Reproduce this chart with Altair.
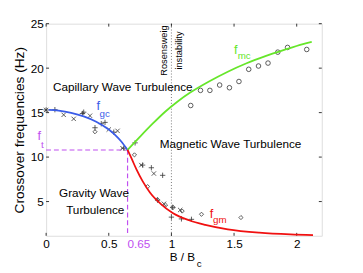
import altair as alt
import pandas as pd

# ---- data ----
# model curves
gc_B = [0.02, 0.1, 0.2, 0.3, 0.4, 0.5, 0.55, 0.6, 0.65]
gc_f = [15.3, 15.22, 14.98, 14.58, 13.98, 13.1, 12.5, 11.75, 10.8]
mc_B = [0.65, 0.75, 0.85, 0.95, 1.05, 1.15, 1.3, 1.45, 1.6, 1.75, 1.9, 2.05, 2.12]
mc_f = [10.8, 12.3, 13.75, 15.1, 16.25, 17.25, 18.5, 19.6, 20.55, 21.35, 22.05, 22.7, 22.95]
gm_B = [0.65, 0.68, 0.72, 0.77, 0.83, 0.91, 1.01, 1.14, 1.27, 1.45, 1.7, 1.95, 2.13]
gm_f = [10.8, 9.9, 8.65, 7.3, 6.0, 4.8, 3.72, 2.9, 2.38, 1.88, 1.5, 1.3, 1.22]

# measured points
plus_B = [0.0, 0.07, 0.29, 0.30, 0.39, 0.44, 0.47, 0.54, 0.62, 0.71, 0.77, 0.84, 0.93, 0.89, 1.0, 1.08, 1.16, 1.01]
plus_f = [15.3, 15.33, 14.9, 15.05, 13.3, 13.75, 13.9, 12.8, 11.0, 11.6, 9.1, 8.8, 7.95, 5.15, 3.25, 3.05, 3.0, 4.35]
cross_B = [0.0, 0.14, 0.22, 0.35, 0.5, 0.57, 0.61, 0.76, 0.86, 0.94, 1.07]
cross_f = [15.3, 14.75, 14.3, 14.65, 13.1, 12.95, 11.0, 9.1, 8.15, 4.75, 4.05]
circ_B = [1.154, 1.232, 1.307, 1.385, 1.463, 1.539, 1.617, 1.695, 1.771, 1.849, 1.927, 2.08]
circ_f = [15.8, 17.5, 17.5, 18.1, 17.8, 18.5, 19.87, 20.24, 20.57, 21.8, 22.33, 22.1]
diam_B = [0.39, 0.705, 0.81, 0.888, 0.953, 1.013, 1.086, 1.24, 1.555]
diam_f = [12.85, 10.25, 6.68, 5.22, 4.6, 4.34, 3.93, 3.57, 3.2]

B_t = 0.65
f_t = 10.8
B_rosen = 1.0

x_ticks = [0, 0.5, 1, 1.5, 2]
y_ticks = [5, 10, 15, 20, 25]
x_domain = [0, 2.2]
y_domain = [1.15, 25]

W, H = 282, 217
FONT = "Liberation Sans"
BLUE = "#3a5ce8"
GREEN = "#66e62a"
RED = "#f01010"
MAG = "#c050f0"
MARK = "#333333"

xs = alt.Scale(domain=x_domain, nice=False, zero=False)
ys = alt.Scale(domain=y_domain, nice=False, zero=False)

x_axis = alt.Axis(values=x_ticks, format="~g", labelFontSize=12, labelFont=FONT,
                  labelColor="black", labelPadding=3, labelFlush=False,
                  ticks=False, domain=False, grid=False, title=None)
y_axis = alt.Axis(values=y_ticks, format="~g", labelFontSize=12, labelFont=FONT,
                  labelColor="black", labelPadding=3, labelFlush=False,
                  ticks=False, domain=False, grid=False,
                  title="Crossover frequencies (Hz)", titleFont=FONT, titleFontSize=14,
                  titleFontWeight="normal", titleColor="black", titleX=-27, titleY=H / 2,
                  titleAngle=270, titleAlign="center", titleBaseline="middle")


def X(field="B"):
    return alt.X(f"{field}:Q", scale=xs, axis=x_axis)


def Y(field="f"):
    return alt.Y(f"{field}:Q", scale=ys, axis=y_axis)


# guide lines
dash_h = alt.Chart(pd.DataFrame({"B": [0.0], "B2": [B_t], "f": [f_t]})).mark_rule(
    color=MAG, strokeWidth=1.2, strokeDash=[5, 3]).encode(
    x=X(), x2="B2:Q", y=Y())
dash_v = alt.Chart(pd.DataFrame({"B": [B_t], "f": [f_t], "f2": [y_domain[0]]})).mark_rule(
    color=MAG, strokeWidth=1.2, strokeDash=[5, 3]).encode(
    x=X(), y=Y(), y2="f2:Q")
dot_v = alt.Chart(pd.DataFrame({"B": [B_rosen], "f": [y_domain[0]], "f2": [y_domain[1]]})).mark_rule(
    color="#777777", strokeWidth=1, strokeDash=[1, 2]).encode(
    x=X(), y=Y(), y2="f2:Q")


def curve(B, f, color):
    return alt.Chart(pd.DataFrame({"B": B, "f": f})).mark_line(
        color=color, strokeWidth=1.8, interpolate="monotone").encode(x=X(), y=Y(), order="B:Q")


def points(B, f, shape, size, width=0.8):
    return alt.Chart(pd.DataFrame({"B": B, "f": f})).mark_point(
        shape=shape, size=size, filled=False, stroke=MARK, strokeWidth=width, opacity=1).encode(x=X(), y=Y())


def label(txt, B, f, color="black", size=12, align="left", baseline="alphabetic", angle=0):
    return alt.Chart(pd.DataFrame({"B": [B], "f": [f], "t": [txt]})).mark_text(
        color=color, fontSize=size, font=FONT, align=align, baseline=baseline, angle=angle).encode(
        x=X(), y=Y(), text="t:N")


# inner ticks
def xtick(top):
    y0, y1 = (0, 3) if top else (H, H - 3)
    return alt.Chart(pd.DataFrame({"B": x_ticks})).mark_rule(color="black", strokeWidth=0.8).encode(
        x=X(), y=alt.value(y0), y2=alt.value(y1))


def ytick(right):
    x0, x1 = (W, W - 3) if right else (0, 3)
    return alt.Chart(pd.DataFrame({"f": y_ticks})).mark_rule(color="black", strokeWidth=0.8).encode(
        y=Y(), x=alt.value(x0), x2=alt.value(x1))


layers = [
    dash_h, dash_v, dot_v,
    xtick(False), xtick(True), ytick(False), ytick(True),
    points(plus_B, plus_f, "M-1,0H1M0,-1V1", 30),
    points(cross_B, cross_f, "M-1,-1L1,1M-1,1L1,-1", 20),
    points(circ_B, circ_f, "circle", 22),
    points(diam_B, diam_f, "diamond", 18),
    curve(gc_B, gc_f, BLUE),
    curve(mc_B, mc_f, GREEN),
    curve(gm_B, gm_f, RED),
    label("Capillary Wave Turbulence", 0.055, 17.46),
    label("Magnetic Wave Turbulence", 0.907, 11.04),
    label("Gravity Wave", 0.382, 5.51, align="center"),
    label("Turbulence", 0.392, 3.65, align="center"),
    label("Rosensweig", 0.945, 21.98, size=9.5, align="center", baseline="middle", angle=270),
    label("instability", 1.059, 21.98, size=9.5, align="center", baseline="middle", angle=270),
    label("f", 0.402, 15.26, BLUE, 13),
    label("gc", 0.427, 14.53, BLUE, 10),
    label("f", 1.5, 21.59, GREEN, 13),
    label("mc", 1.529, 20.98, GREEN, 10),
    label("f", 1.305, 3.17, RED, 13),
    label("gm", 1.332, 2.62, RED, 10),
    label("f", -0.068, 11.97, MAG, 13),
    label("t", -0.041, 10.98, MAG, 10),
]

tick065 = alt.Chart(pd.DataFrame({"B": [B_t], "t": ["0.65"]})).mark_text(
    color=MAG, fontSize=12, font=FONT, align="left", baseline="top").encode(
    x=X(), y=alt.value(H + 3), text="t:N")
xtitle1 = alt.Chart(pd.DataFrame({"t": ["B / B"]})).mark_text(
    fontSize=12, font=FONT, align="left", baseline="alphabetic", color="black").encode(
    x=alt.value(126.5), y=alt.value(243), text="t:N")
xtitle2 = alt.Chart(pd.DataFrame({"t": ["c"]})).mark_text(
    fontSize=10, font=FONT, align="left", baseline="alphabetic", color="black").encode(
    x=alt.value(154), y=alt.value(249), text="t:N")

chart = alt.layer(*layers, tick065, xtitle1, xtitle2).properties(
    width=W, height=H,
    autosize=alt.AutoSizeParams(type="none"),
    padding={"left": 39, "top": 13, "right": 34, "bottom": 34},
).configure_view(stroke="black", strokeWidth=1).configure(background="white")

chart.save("out.html", embed_options={"renderer": "svg", "actions": False})
